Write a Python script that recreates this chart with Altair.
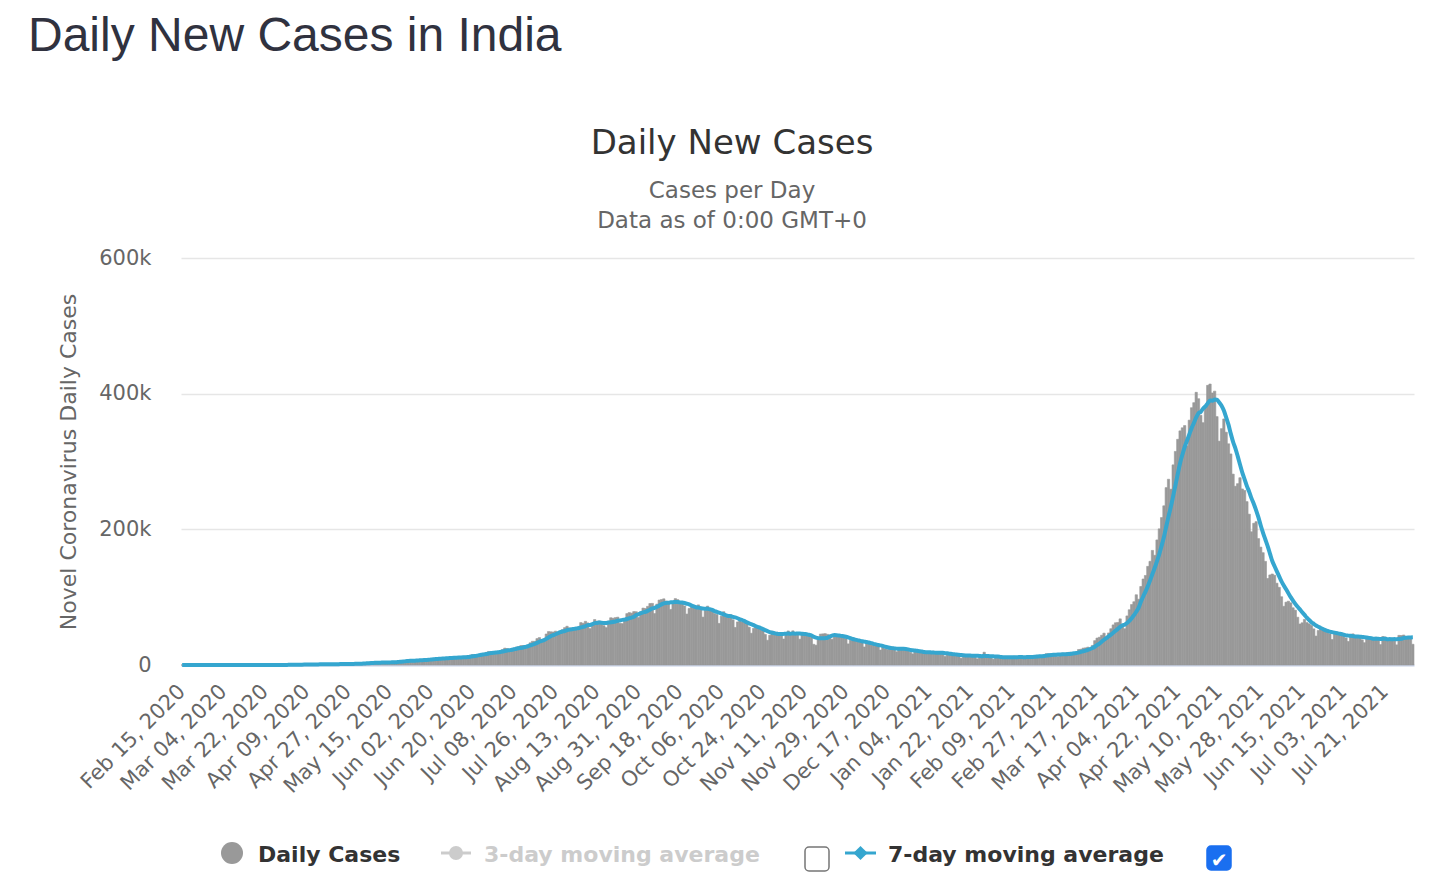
import altair as alt
import pandas as pd

# daily new cases in India (one list per month)
feb_2020 = [0, 0, 0, 0, 0, 0, 0, 0, 0, 0, 0, 0, 0, 0, 0]
mar_2020 = [0, 2, 1, 23, 2, 1, 3, 5, 4, 13, 6, 11, 9, 20, 11, 6, 23, 14, 38, 50,
            86, 66, 103, 37, 121, 70, 160, 100, 82, 227, 146]
apr_2020 = [601, 545, 478, 601, 472, 693, 354, 773, 591, 896, 768, 918, 905, 1463,
            1118, 826, 1061, 957, 1324, 1580, 1239, 1537, 1292, 1667, 1408, 1835,
            1607, 1568, 1902, 1705]
may_2020 = [1801, 2396, 2564, 3656, 2971, 3587, 3364, 3344, 3113, 4353, 3607, 3524,
            3763, 3942, 3787, 4864, 5050, 4630, 6147, 5553, 6198, 6568, 6629, 7111,
            6414, 6535, 7298, 7466, 7964, 8380, 8392]
jun_2020 = [8171, 8909, 9304, 9851, 9887, 9971, 9983, 9987, 9985, 11458, 10956, 11458,
            11929, 11502, 10667, 10974, 12881, 13586, 14516, 15413, 14821, 14933,
            15968, 16922, 17296, 18552, 19906, 19459, 18522, 18653]
jul_2020 = [19148, 20903, 22771, 24850, 24248, 22252, 22752, 24879, 26506, 27114,
            28637, 28701, 28498, 29429, 32695, 34956, 34884, 38902, 40425, 37148,
            37724, 45720, 49310, 48916, 48661, 49931, 47703, 48513, 52123, 55079, 57118]
aug_2020 = [54735, 52972, 52050, 52509, 56282, 62538, 61537, 64399, 62064, 53601,
            60963, 66999, 64553, 65002, 63490, 57981, 55079, 64531, 69652, 68898,
            69878, 70488, 61408, 60975, 67151, 75760, 77266, 76472, 78761, 78512, 69921]
sep_2020 = [78357, 83883, 83341, 86432, 90632, 90802, 75809, 89706, 95735, 96551,
            97570, 94372, 92071, 81911, 90123, 97894, 96424, 93337, 92605, 86961,
            75083, 83347, 86508, 86052, 85362, 88600, 82170, 70589, 80472, 86821]
oct_2020 = [81484, 79476, 75829, 74442, 61267, 72049, 78524, 70496, 73272, 74383,
            66732, 55342, 63509, 67708, 63371, 62212, 61871, 55722, 46790, 54044,
            55839, 54366, 53370, 50129, 45148, 36470, 43893, 49881, 48648, 48268, 46963]
nov_2020 = [45231, 38310, 46253, 50210, 47638, 50356, 45674, 45903, 38073, 44281,
            47905, 44878, 44879, 41100, 30548, 29164, 38617, 45576, 45882, 46232,
            45209, 44059, 37975, 44376, 44489, 43082, 41322, 41810, 38772, 31118]
dec_2020 = [36604, 35551, 36595, 36652, 36011, 32981, 26567, 32080, 31521, 29398,
            30006, 30254, 27071, 22065, 26382, 24010, 22890, 25152, 26624, 24337,
            19556, 23950, 24712, 23067, 23068, 22272, 18732, 16432, 20550, 21822, 20035]
jan_2021 = [19079, 18177, 16504, 16375, 18088, 20346, 18139, 18222, 18645, 16311,
            12584, 15968, 16946, 15590, 15158, 15144, 13788, 10064, 13823, 15223,
            14545, 14256, 14849, 13203, 9102, 12689, 11666, 18855, 13083, 13052, 11427]
feb_2021 = [8635, 11039, 12899, 12408, 11713, 12059, 11831, 9110, 11067, 12923,
            12143, 12194, 12143, 11649, 9121, 11610, 12881, 13193, 13993, 14264,
            14199, 10584, 13742, 16738, 16577, 16488, 16752, 15510]
mar_2021 = [12286, 14989, 17407, 16838, 18327, 18711, 18599, 15388, 17921, 22854,
            23285, 24882, 25320, 26291, 24492, 28903, 35871, 39726, 40953, 43846,
            46951, 40715, 47262, 53476, 59118, 62258, 62714, 68020, 56211, 53480, 72330]
apr_2021 = [81466, 89129, 93249, 103558, 96982, 115736, 126789, 131968, 145384,
            152879, 168912, 161736, 184372, 200739, 217353, 234692, 261500, 273810,
            259170, 295041, 314835, 332730, 345147, 349691, 352991, 323144, 360960,
            379308, 386793, 401993]
may_2021 = [392562, 368147, 357229, 382315, 412262, 414188, 401078, 403738, 366161,
            329942, 348421, 362727, 343144, 326098, 311170, 281386, 263533, 267334,
            276070, 259551, 257299, 240842, 222315, 196427, 208921, 211298, 186364,
            173790, 165553, 152734, 127510]
jun_2021 = [132788, 134154, 132364, 120529, 114460, 100636, 86498, 92596, 94052,
            91702, 84332, 80834, 70421, 60471, 62224, 67208, 62480, 60753, 58419,
            53256, 42640, 50848, 54069, 51667, 48698, 50040, 46148, 37566, 45951, 48786]
jul_2021 = [46617, 44111, 43071, 39796, 34703, 43733, 45892, 43393, 42766, 41506,
            37154, 32906, 40215, 41806, 38949, 38079, 41157, 38164, 30093, 42015,
            41383, 35342, 39097, 39742, 39361, 29689, 43654, 43509, 44230, 41649, 41831]
aug_2021 = [40134, 30549]

tick_labels = ["Feb 15, 2020", "Mar 04, 2020", "Mar 22, 2020", "Apr 09, 2020",
               "Apr 27, 2020", "May 15, 2020", "Jun 02, 2020", "Jun 20, 2020",
               "Jul 08, 2020", "Jul 26, 2020", "Aug 13, 2020", "Aug 31, 2020",
               "Sep 18, 2020", "Oct 06, 2020", "Oct 24, 2020", "Nov 11, 2020",
               "Nov 29, 2020", "Dec 17, 2020", "Jan 04, 2021", "Jan 22, 2021",
               "Feb 09, 2021", "Feb 27, 2021", "Mar 17, 2021", "Apr 04, 2021",
               "Apr 22, 2021", "May 10, 2021", "May 28, 2021", "Jun 15, 2021",
               "Jul 03, 2021", "Jul 21, 2021"]
y_ticks = [0, 200000, 400000, 600000]

daily_cases = (feb_2020 + mar_2020 + apr_2020 + may_2020 + jun_2020 + jul_2020
               + aug_2020 + sep_2020 + oct_2020 + nov_2020 + dec_2020 + jan_2021
               + feb_2021 + mar_2021 + apr_2021 + may_2021 + jun_2021 + jul_2021
               + aug_2021)
dates = pd.date_range("2020-02-15", periods=len(daily_cases), freq="D")
df = pd.DataFrame({"idx": range(len(daily_cases)),
                   "date": dates.strftime("%b %d, %Y"),
                   "cases": daily_cases})

FONT = "DejaVu Sans"
BLUE = "#35a6cf"

# plot area origin sits at page (181, 258); decorations are placed relative to it
OX, OY = 181, 258

x_axis = alt.Axis(values=tick_labels, labelAngle=315, labelAlign="right",
                  labelBaseline="middle", labelFont=FONT, labelFontSize=21,
                  labelColor="#666666", labelPadding=23, labelOverlap=False,
                  ticks=False, domainColor="#ccd6eb", domainWidth=2, grid=False)
y_axis = alt.Axis(values=y_ticks,
                  labelExpr="datum.value == 0 ? '0' : format(datum.value / 1000, 'd') + 'k'",
                  labelFont=FONT, labelFontSize=21,
                  labelColor="#666666", labelPadding=30, ticks=False, domain=False,
                  gridColor="#e6e6e6", gridWidth=1.5, titleFont=FONT,
                  titleFontSize=22, titleFontWeight="normal", titleColor="#666666",
                  titlePadding=18)
y_title = "Novel Coronavirus Daily Cases"

bars = alt.Chart(df).mark_bar(color="#999999", stroke="#999999",
                              strokeWidth=0.6).encode(
    x=alt.X("date:O", sort=None, title=None,
            scale=alt.Scale(paddingInner=0, paddingOuter=0), axis=x_axis),
    y=alt.Y("cases:Q", title=y_title,
            scale=alt.Scale(domain=[0, 600000], nice=False), axis=y_axis)
)

avg7 = alt.Chart(df).transform_window(
    ma7="mean(cases)", frame=[-6, 0], sort=[alt.SortField("idx")]
).mark_line(color=BLUE, strokeWidth=4, interpolate="monotone").encode(
    x=alt.X("date:O", sort=None, title=None),
    y=alt.Y("ma7:Q", title=y_title)
)


def label(text, px, py, size, color, weight="normal", font=FONT, align="left"):
    return alt.Chart(pd.DataFrame({"t": [text]})).mark_text(
        font=font, fontSize=size, color=color, fontWeight=weight,
        align=align, baseline="alphabetic"
    ).encode(text="t:N", x=alt.value(px - OX), y=alt.value(py - OY))


def box(x0, y0, x1, y1, fill, stroke):
    return alt.Chart(pd.DataFrame({"t": [0]})).mark_rect(
        fill=fill, stroke=stroke, strokeWidth=1.5, cornerRadius=4
    ).encode(x=alt.value(x0 - OX), x2=alt.value(x1 - OX),
             y=alt.value(y0 - OY), y2=alt.value(y1 - OY))


def swatch(x0, x1, yc, color, shape, size):
    one = pd.DataFrame({"t": [0]})
    rule = alt.Chart(one).mark_rule(color=color, strokeWidth=3).encode(
        x=alt.value(x0 - OX), x2=alt.value(x1 - OX), y=alt.value(yc - OY))
    dot = alt.Chart(one).mark_point(shape=shape, filled=True, opacity=1,
                                    color=color, size=size).encode(
        x=alt.value((x0 + x1) / 2 - OX), y=alt.value(yc - OY))
    return rule + dot


header = label("Daily New Cases in India", 28, 51, 48, "#30323f",
               font="Liberation Sans")
title = label("Daily New Cases", 732, 154, 34, "#333333", align="center")
sub1 = label("Cases per Day", 732, 198, 23, "#666666", align="center")
sub2 = label("Data as of 0:00 GMT+0", 732, 228, 23, "#666666", align="center")

dot_daily = alt.Chart(pd.DataFrame({"t": [0]})).mark_point(
    shape="circle", filled=True, opacity=1, color="#999999", size=484
).encode(x=alt.value(232 - OX), y=alt.value(853 - OY))
leg_daily = label("Daily Cases", 258, 862, 22, "#333333", weight="bold")
sw3 = swatch(441, 471, 853, "#cccccc", "circle", 196)
leg3 = label("3-day moving average", 484, 862, 22, "#cccccc", weight="bold")
box3 = box(805, 847, 829, 871, "#ffffff", "#767676")
sw7 = swatch(845, 876, 853, BLUE, "diamond", 200)
leg7 = label("7-day moving average", 888, 862, 22, "#333333", weight="bold")
box7 = box(1207, 846, 1231, 870, "#1a6ff0", "#1a6ff0")
tick7 = label("\u2714", 1219, 867, 20, "#ffffff", align="center")

chart = alt.layer(
    bars, avg7, header, title, sub1, sub2,
    dot_daily, leg_daily, sw3, leg3, box3, sw7, leg7, box7, tick7
).properties(
    width=1233, height=407,
    autosize=alt.AutoSizeParams(type="none"),
    padding={"left": OX - 8, "top": OY - 8, "right": 12, "bottom": 225}
).configure_view(stroke=None)

chart.save("out.html", embed_options={"renderer": "svg", "actions": False})
